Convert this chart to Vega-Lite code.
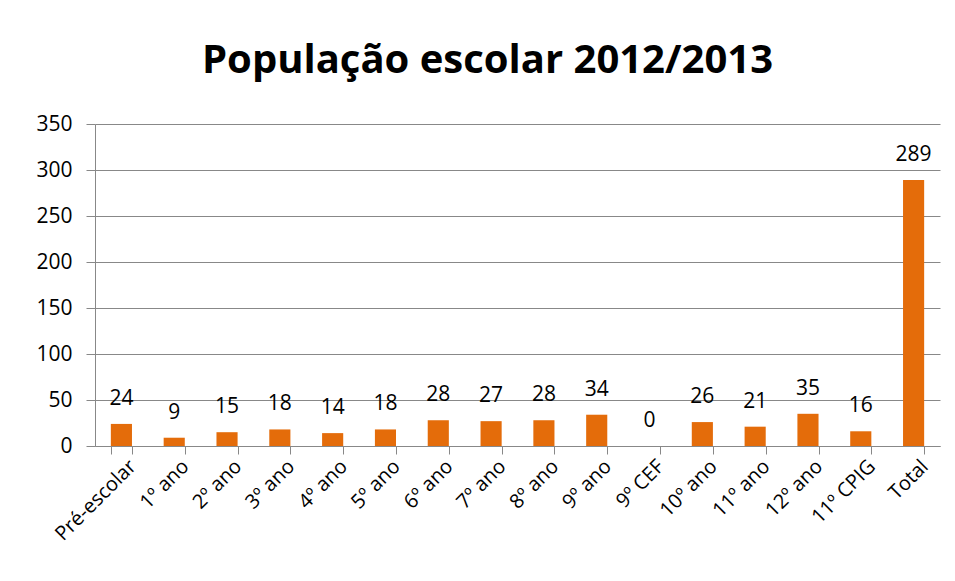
{
  "$schema": "https://vega.github.io/schema/vega-lite/v6.json",
  "autosize": {"type": "none"},
  "width": 845,
  "height": 322,
  "padding": {"left": 95, "top": 124, "right": 15, "bottom": 135},
  "background": "white",
  "title": {
    "text": "População escolar 2012/2013",
    "font": "Open Sans",
    "fontSize": 40,
    "fontWeight": "bold",
    "color": "#000000",
    "anchor": "middle",
    "dx": -30,
    "offset": 32
  },
  "data": {
    "values": [
      {"categoria": "Pré-escolar", "alunos": 24},
      {"categoria": "1º ano", "alunos": 9},
      {"categoria": "2º ano", "alunos": 15},
      {"categoria": "3º ano", "alunos": 18},
      {"categoria": "4º ano", "alunos": 14},
      {"categoria": "5º ano", "alunos": 18},
      {"categoria": "6º ano", "alunos": 28},
      {"categoria": "7º ano", "alunos": 27},
      {"categoria": "8º ano", "alunos": 28},
      {"categoria": "9º ano", "alunos": 34},
      {"categoria": "9º CEF", "alunos": 0},
      {"categoria": "10º ano", "alunos": 26},
      {"categoria": "11º ano", "alunos": 21},
      {"categoria": "12º ano", "alunos": 35},
      {"categoria": "11º CPIG", "alunos": 16},
      {"categoria": "Total", "alunos": 289}
    ]
  },
  "encoding": {
    "x": {
      "field": "categoria",
      "type": "nominal",
      "sort": null,
      "scale": {"paddingInner": 0.6, "paddingOuter": 0.3},
      "axis": {
        "title": null,
        "labelAngle": -45,
        "labelFont": "Open Sans",
        "labelFontSize": 20,
        "labelColor": "#000000",
        "labelPadding": 2,
        "labelOffset": 4,
        "tickBand": "extent",
        "tickSize": 8,
        "tickColor": "#888888",
        "domainColor": "#888888",
        "grid": false
      }
    },
    "y": {
      "field": "alunos",
      "type": "quantitative",
      "scale": {"domain": [0, 350], "nice": false},
      "axis": {
        "title": null,
        "values": [0, 50, 100, 150, 200, 250, 300, 350],
        "labelFont": "Open Sans",
        "labelFontSize": 21,
        "labelColor": "#000000",
        "labelPadding": 14,
        "tickSize": 9,
        "tickColor": "#888888",
        "domainColor": "#888888",
        "gridColor": "#888888",
        "gridWidth": 1
      }
    }
  },
  "layer": [
    {
      "mark": {"type": "bar", "color": "#E46C0A"}
    },
    {
      "mark": {
        "type": "text",
        "baseline": "alphabetic",
        "dy": -19,
        "font": "Open Sans",
        "fontSize": 21,
        "color": "#000000"
      },
      "encoding": {"text": {"field": "alunos", "type": "quantitative"}}
    }
  ],
  "config": {"view": {"stroke": null}}
}
